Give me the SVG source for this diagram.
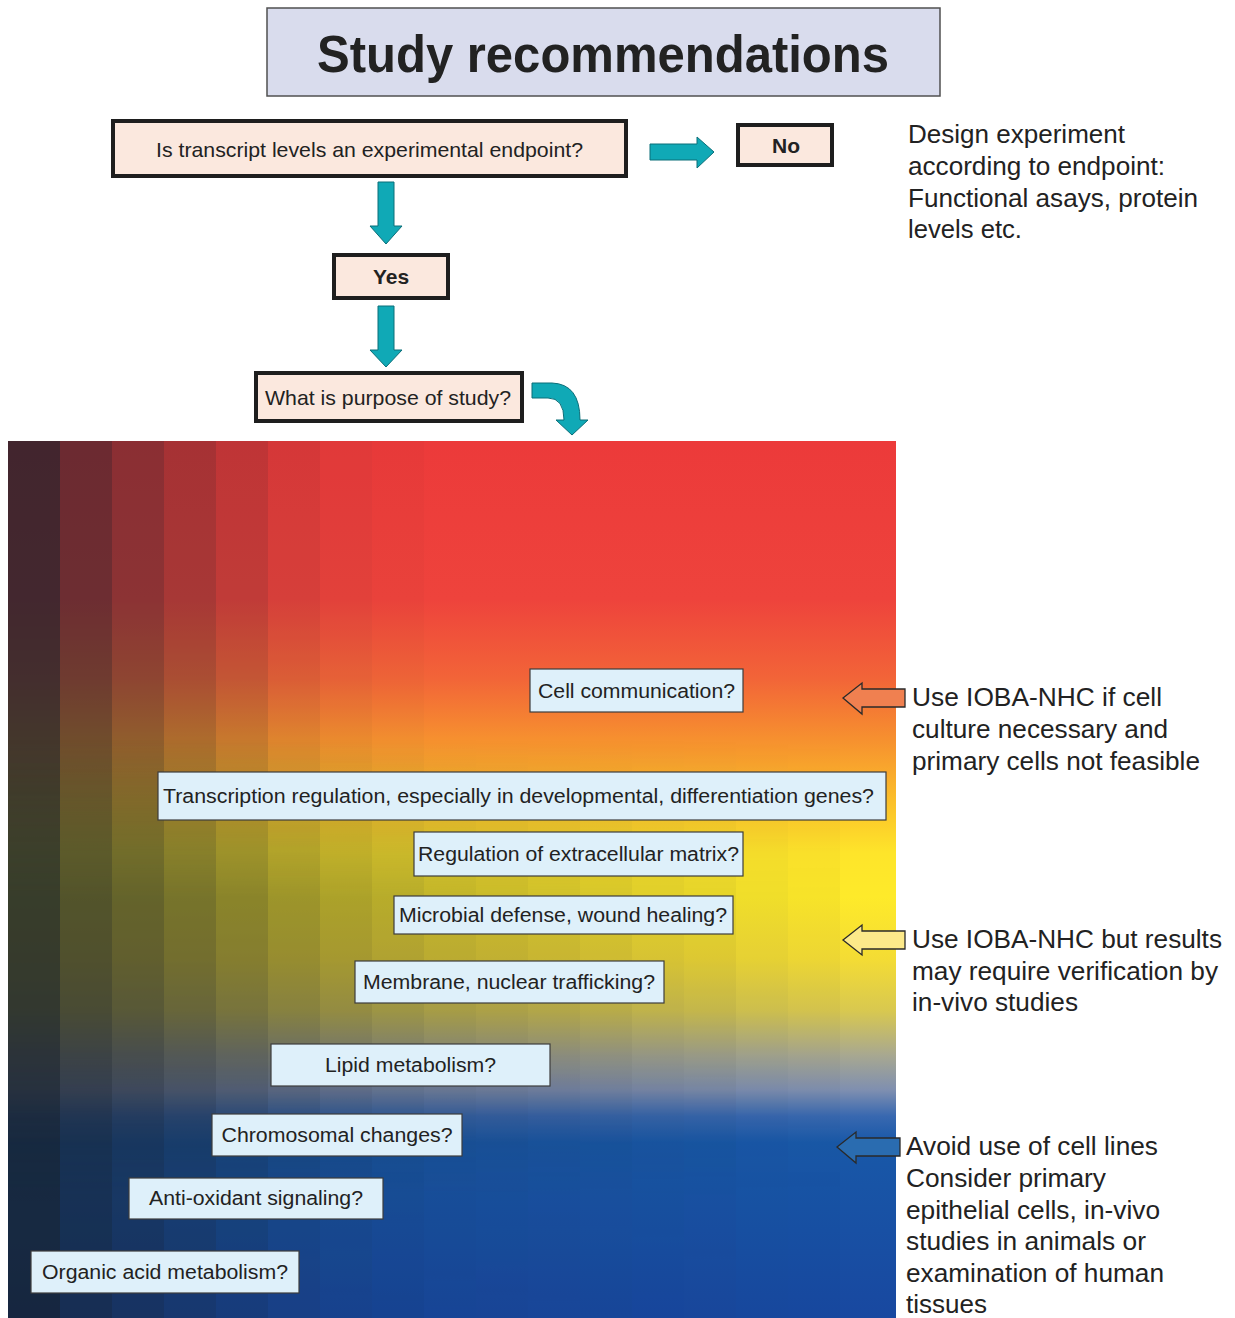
<svg xmlns="http://www.w3.org/2000/svg" width="1235" height="1318" viewBox="0 0 1235 1318">
<defs>
<style>
.t{font-family:"Liberation Sans",Arial,sans-serif;fill:#222;}
.box{fill:#fbe8de;stroke:#1e1e1e;stroke-width:4;}
.lab{fill:#def0fa;stroke:#3c3c3c;stroke-width:1.2;}
.teal{fill:#10a9b6;stroke:#0b6e78;stroke-width:1;}
.lt{font-size:20px;text-anchor:middle;}
.rt{font-size:25px;}
.hol{stroke:#2a2a2a;stroke-width:1.3;}
</style>
<linearGradient id="vg" gradientUnits="userSpaceOnUse" x1="0" y1="441" x2="0" y2="1318">
<stop offset="0" stop-color="#ec3a3a"/>
<stop offset="0.18" stop-color="#ee433c"/>
<stop offset="0.27" stop-color="#f26438"/>
<stop offset="0.34" stop-color="#f6902f"/>
<stop offset="0.41" stop-color="#fbbf2a"/>
<stop offset="0.47" stop-color="#fee52a"/>
<stop offset="0.52" stop-color="#feea2a"/>
<stop offset="0.59" stop-color="#f4dc34"/>
<stop offset="0.65" stop-color="#d8c850"/>
<stop offset="0.70" stop-color="#a8a890"/>
<stop offset="0.74" stop-color="#7f8fb0"/>
<stop offset="0.77" stop-color="#3868b0"/>
<stop offset="0.80" stop-color="#1858a8"/>
<stop offset="1" stop-color="#1848a0"/>
</linearGradient>
<linearGradient id="mg" gradientUnits="userSpaceOnUse" x1="0" y1="441" x2="0" y2="1318">
<stop offset="0.34" stop-color="#000"/>
<stop offset="0.52" stop-color="#fff"/>
<stop offset="0.70" stop-color="#fff"/>
<stop offset="0.86" stop-color="#666"/>
<stop offset="1" stop-color="#555"/>
</linearGradient>
<mask id="mk" maskUnits="userSpaceOnUse" x="0" y="0" width="1235" height="1318">
<rect x="8" y="441" width="888" height="877" fill="url(#mg)"/>
</mask>
</defs>
<rect width="1235" height="1318" fill="#fff"/>

<g id="panel">
<rect x="8" y="441" width="888" height="877" fill="url(#vg)"/>
<g fill="#18202c">
<rect x="8" y="441" width="52" height="877" fill-opacity="0.8"/>
<rect x="60" y="441" width="52" height="877" fill-opacity="0.6"/>
<rect x="112" y="441" width="52" height="877" fill-opacity="0.46"/>
<rect x="164" y="441" width="52" height="877" fill-opacity="0.33"/>
<rect x="216" y="441" width="52" height="877" fill-opacity="0.21"/>
<rect x="268" y="441" width="52" height="877" fill-opacity="0.11"/>
<rect x="320" y="441" width="52" height="877" fill-opacity="0.05"/>
<rect x="372" y="441" width="52" height="877" fill-opacity="0.02"/>
</g>
<g fill="#18202c" mask="url(#mk)">
<rect x="8" y="441" width="52" height="877" fill-opacity="0.3"/>
<rect x="60" y="441" width="52" height="877" fill-opacity="0.36"/>
<rect x="112" y="441" width="52" height="877" fill-opacity="0.38"/>
<rect x="164" y="441" width="52" height="877" fill-opacity="0.38"/>
<rect x="216" y="441" width="52" height="877" fill-opacity="0.37"/>
<rect x="268" y="441" width="52" height="877" fill-opacity="0.35"/>
<rect x="320" y="441" width="52" height="877" fill-opacity="0.32"/>
<rect x="372" y="441" width="52" height="877" fill-opacity="0.29"/>
<rect x="424" y="441" width="52" height="877" fill-opacity="0.26"/>
<rect x="476" y="441" width="52" height="877" fill-opacity="0.23"/>
<rect x="528" y="441" width="52" height="877" fill-opacity="0.2"/>
<rect x="580" y="441" width="52" height="877" fill-opacity="0.17"/>
<rect x="632" y="441" width="52" height="877" fill-opacity="0.13"/>
<rect x="684" y="441" width="52" height="877" fill-opacity="0.1"/>
<rect x="736" y="441" width="52" height="877" fill-opacity="0.06"/>
<rect x="788" y="441" width="52" height="877" fill-opacity="0.03"/>
</g>
</g>

<g id="title">
<rect x="267" y="8" width="673" height="88" fill="#d9dced" stroke="#505050" stroke-width="1.5"/>
<text class="t" x="603" y="72" font-size="52" font-weight="bold" text-anchor="middle" textLength="572" lengthAdjust="spacingAndGlyphs">Study recommendations</text>
</g>

<g id="n-endpoint">
<rect class="box" x="113" y="121" width="513" height="55"/>
<text class="t" x="369.5" y="157" font-size="21" text-anchor="middle" textLength="427" lengthAdjust="spacingAndGlyphs">Is transcript levels an experimental endpoint?</text>
</g>
<g id="n-no">
<rect class="box" x="738" y="125" width="94" height="40"/>
<text class="t" x="786" y="153" font-size="21" font-weight="bold" text-anchor="middle">No</text>
</g>
<g id="n-yes">
<rect class="box" x="334" y="255" width="114" height="43"/>
<text class="t" x="391" y="284" font-size="21" font-weight="bold" text-anchor="middle">Yes</text>
</g>
<g id="n-purpose">
<rect class="box" x="256" y="373" width="266" height="48"/>
<text class="t" x="388" y="405" font-size="21" text-anchor="middle" textLength="246" lengthAdjust="spacingAndGlyphs">What is purpose of study?</text>
</g>

<g id="connectors">
<polygon class="teal" points="650,144 697,144 697,137 714,152 697,168 697,160 650,160"/>
<polygon class="teal" points="378,182 394,182 394,226 402,226 386,244 370,226 378,226"/>
<polygon class="teal" points="378,306 394,306 394,350 402,350 386,367 370,350 378,350"/>
<path class="teal" d="M532,383 L552,383 Q580,384 580,420 L588,420 L572,435 L556,420 L564,420 Q564,398 548,398 L532,398 Z"/>
<polygon class="hol" fill="#f08050" points="843,698 862,683 862,689 905,689 905,707 862,707 862,714"/>
<polygon class="hol" fill="#fce98a" points="843,940 862,925 862,931 905,931 905,949 862,949 862,955"/>
<polygon class="hol" fill="#2a6cb0" points="837,1147 856,1132 856,1138 900,1138 900,1156 856,1156 856,1163"/>
</g>

<g id="n-design">
<text class="t rt"><tspan x="908" y="143" textLength="217" lengthAdjust="spacingAndGlyphs">Design experiment</tspan><tspan x="908" y="175" textLength="257" lengthAdjust="spacingAndGlyphs">according to endpoint:</tspan><tspan x="908" y="207" textLength="290" lengthAdjust="spacingAndGlyphs">Functional asays, protein</tspan><tspan x="908" y="238" textLength="114" lengthAdjust="spacingAndGlyphs">levels etc.</tspan></text>
</g>
<g id="n-rec1">
<text class="t rt"><tspan x="912" y="706" textLength="250" lengthAdjust="spacingAndGlyphs">Use IOBA-NHC if cell</tspan><tspan x="912" y="738" textLength="256" lengthAdjust="spacingAndGlyphs">culture necessary and</tspan><tspan x="912" y="770" textLength="288" lengthAdjust="spacingAndGlyphs">primary cells not feasible</tspan></text>
</g>
<g id="n-rec2">
<text class="t rt"><tspan x="912" y="948" textLength="310" lengthAdjust="spacingAndGlyphs">Use IOBA-NHC but results</tspan><tspan x="912" y="980" textLength="306" lengthAdjust="spacingAndGlyphs">may require verification by</tspan><tspan x="912" y="1011" textLength="166" lengthAdjust="spacingAndGlyphs">in-vivo studies</tspan></text>
</g>
<g id="n-rec3">
<text class="t rt"><tspan x="906" y="1155" textLength="252" lengthAdjust="spacingAndGlyphs">Avoid use of cell lines</tspan><tspan x="906" y="1187" textLength="200" lengthAdjust="spacingAndGlyphs">Consider primary</tspan><tspan x="906" y="1219" textLength="254" lengthAdjust="spacingAndGlyphs">epithelial cells, in-vivo</tspan><tspan x="906" y="1250" textLength="240" lengthAdjust="spacingAndGlyphs">studies in animals or</tspan><tspan x="906" y="1282" textLength="258" lengthAdjust="spacingAndGlyphs">examination of human</tspan><tspan x="906" y="1313" textLength="81" lengthAdjust="spacingAndGlyphs">tissues</tspan></text>
</g>

<g id="l-cell"><rect class="lab" x="530" y="669" width="213" height="43"/><text class="t lt" x="636.5" y="698" textLength="197" lengthAdjust="spacingAndGlyphs">Cell communication?</text></g>
<g id="l-transcription"><rect class="lab" x="158" y="772" width="728" height="48"/><text class="t lt" x="518.5" y="803" textLength="711" lengthAdjust="spacingAndGlyphs">Transcription regulation, especially in developmental, differentiation genes?</text></g>
<g id="l-ecm"><rect class="lab" x="414" y="832" width="329" height="44"/><text class="t lt" x="578.5" y="861" textLength="321" lengthAdjust="spacingAndGlyphs">Regulation of extracellular matrix?</text></g>
<g id="l-microbial"><rect class="lab" x="394" y="896" width="339" height="38"/><text class="t lt" x="563" y="922" textLength="328" lengthAdjust="spacingAndGlyphs">Microbial defense, wound healing?</text></g>
<g id="l-membrane"><rect class="lab" x="355" y="961" width="309" height="42"/><text class="t lt" x="509" y="989" textLength="292" lengthAdjust="spacingAndGlyphs">Membrane, nuclear trafficking?</text></g>
<g id="l-lipid"><rect class="lab" x="271" y="1044" width="279" height="42"/><text class="t lt" x="410.5" y="1072" textLength="171" lengthAdjust="spacingAndGlyphs">Lipid metabolism?</text></g>
<g id="l-chromo"><rect class="lab" x="212" y="1114" width="250" height="42"/><text class="t lt" x="337" y="1142" textLength="231" lengthAdjust="spacingAndGlyphs">Chromosomal changes?</text></g>
<g id="l-antiox"><rect class="lab" x="129" y="1178" width="254" height="41"/><text class="t lt" x="256" y="1205" textLength="214" lengthAdjust="spacingAndGlyphs">Anti-oxidant signaling?</text></g>
<g id="l-organic"><rect class="lab" x="31" y="1251" width="268" height="42"/><text class="t lt" x="165" y="1279" textLength="246" lengthAdjust="spacingAndGlyphs">Organic acid metabolism?</text></g>
</svg>
